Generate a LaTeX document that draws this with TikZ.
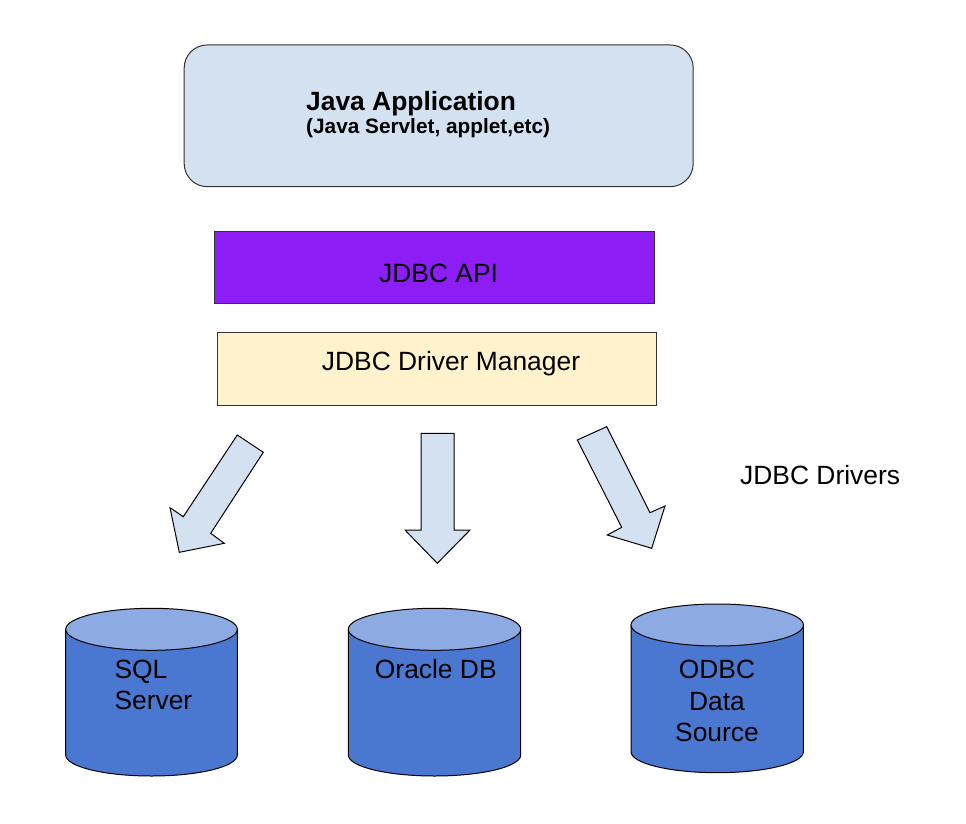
\documentclass[tikz,border=0pt]{standalone}
\usepackage{fontspec}
\setmainfont{Liberation Sans}
\begin{document}
\begin{tikzpicture}[x=1pt,y=-1pt,
  every node/.style={inner sep=0pt},
  txt/.style={font=\fontsize{26.4}{31.7}\selectfont},
  boxline/.style={draw=black!80,line width=1pt},
  blockarrow/.style={draw=black,line width=1pt,fill=appblue,line join=miter},
  cylbody/.style={draw=black,line width=1pt,fill=dbblue},
  cyltop/.style={draw=black,line width=1pt,fill=dbtop}]
\definecolor{appblue}{RGB}{212,225,241}
\definecolor{apipurple}{RGB}{140,30,245}
\definecolor{dmyellow}{RGB}{255,242,204}
\definecolor{dbblue}{RGB}{74,120,208}
\definecolor{dbtop}{RGB}{142,170,226}
\useasboundingbox[fill=white] (0,0) rectangle (966,824);

% boxes
\node[boxline,fill=appblue,rounded corners=23pt,minimum width=509pt,minimum height=141.7pt] (app) at (438.7,115.8) {};
\node[boxline,fill=apipurple,minimum width=439.7pt,minimum height=71.6pt] (api) at (434.2,267.5) {};
\node[boxline,fill=dmyellow,minimum width=439pt,minimum height=72.3pt] (dm) at (437.2,368.9) {};

\node[anchor=base west,font=\fontsize{26.4}{31.7}\selectfont\bfseries] (apptitle) at (306,111) {Java Application};
\node[anchor=base west,font=\fontsize{20.8}{25}\selectfont\bfseries] (appsub) at (306,133.3) {(Java Servlet, applet,etc)};
\node[txt,anchor=base west] (apitext) at (379,282.7) {JDBC API};
\node[txt,anchor=base west] (dmtext) at (321.7,370.7) {JDBC Driver Manager};
\node[txt,anchor=base west] (drivers) at (740,484.3) {JDBC Drivers};

% block arrows
\draw[blockarrow] (237.3,435) -- (263.3,452.3) -- (210.7,533.3) -- (224.3,543.3) -- (179.3,552.3) -- (170,507.7) -- (183.3,516.7) -- cycle;
\draw[blockarrow] (421,433.3) -- (454,433.3) -- (454,530) -- (470,530) -- (437.3,563.3) -- (405,530) -- (421,530) -- cycle;
\draw[blockarrow] (577.3,440) -- (606.7,426.7) -- (650,512.7) -- (665,506) -- (651.7,548.3) -- (607.3,535) -- (621.7,527.3) -- cycle;

% cylinders
\draw[cylbody] (65.7,629.3) -- (65.7,755) arc[start angle=180,end angle=360,x radius=85.8pt,y radius=21pt] -- (237.3,629.3) -- cycle;
\draw[cyltop] (151.5,629.3) ellipse[x radius=85.8pt,y radius=21pt];
\draw[cylbody] (348.3,629.3) -- (348.3,755) arc[start angle=180,end angle=360,x radius=86.2pt,y radius=21pt] -- (520.7,629.3) -- cycle;
\draw[cyltop] (434.5,629.3) ellipse[x radius=86.2pt,y radius=21pt];
\draw[cylbody] (631,625) -- (631,751.7) arc[start angle=180,end angle=360,x radius=86.2pt,y radius=21pt] -- (803.4,625) -- cycle;
\draw[cyltop] (717.2,625) ellipse[x radius=86.2pt,y radius=21pt];

\node[txt,anchor=base west] (sql1) at (114.3,678.3) {SQL};
\node[txt,anchor=base west] (sql2) at (114.3,709.8) {Server};
\node[txt,anchor=base] (ora) at (435.8,678.3) {Oracle DB};
\node[txt,anchor=base] (odbc1) at (717,678.3) {ODBC};
\node[txt,anchor=base] (odbc2) at (717,710) {Data};
\node[txt,anchor=base] (odbc3) at (717,741.7) {Source};
\end{tikzpicture}
\end{document}
